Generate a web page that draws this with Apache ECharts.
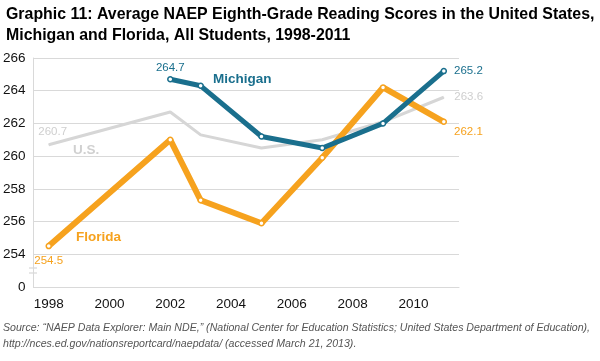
<!DOCTYPE html>
<html><head><meta charset="utf-8">
<script src="https://cdn.jsdelivr.net/npm/echarts@6/dist/echarts.min.js"></script>
<style>html,body{margin:0;padding:0;background:#fff}#c{width:600px;height:361px}</style>
</head><body><div id="c"></div>
<script>
const years = ['1998','1999','2000','2001','2002','2003','2004','2005','2006','2007','2008','2009','2010','2011'];
const usScores =       [260.7, null, null, null, 262.7, 261.3, null, 260.5, null, 261.0, null, 262.1, null, 263.6];
const floridaScores =  [254.5, null, null, null, 261.0, 257.3, null, 255.9, null, 259.9, null, 264.2, null, 262.1];
const michiganScores = [null,  null, null, null, 264.7, 264.3, null, 261.2, null, 260.5, null, 262.0, null, 265.2];
const yTickLabels = {252:'0'};

const C_MI = '#1a6f8d', C_FL = '#f6a21e', C_US = '#d6d6d6';
const chart = echarts.init(document.getElementById('c'));

function lab(arr, idxMap) {
  return arr.map((v, i) => {
    if (v == null) return null;
    if (idxMap[i]) return {value: v, label: Object.assign({show: true}, idxMap[i])};
    return v;
  });
}
const valFont = {fontFamily: 'Liberation Sans', fontSize: 11.5};

chart.setOption({
  animation: false,
  title: {
    text: 'Graphic 11: Average NAEP Eighth-Grade Reading Scores in the United States,\nMichigan and Florida, All Students, 1998-2011',
    left: 1, top: -1,
    textStyle: {fontFamily: 'Liberation Sans', fontWeight: 'bold', fontSize: 15.9, lineHeight: 21, color: '#000'}
  },
  grid: {left: 32, right: 141, top: 58, bottom: 74},
  xAxis: {
    type: 'category', data: years, boundaryGap: true,
    axisLine: {lineStyle: {color: '#d9d9d9', width: 1}},
    axisTick: {show: false},
    axisLabel: {interval: 1, color: '#111', fontFamily: 'Liberation Sans', fontSize: 13.5, margin: 10}
  },
  yAxis: {
    type: 'value', min: 252, max: 266, interval: 2,
    axisLine: {show: true, lineStyle: {color: '#d9d9d9', width: 1}},
    axisTick: {show: false},
    splitLine: {lineStyle: {color: '#d9d9d9', width: 1.2}},
    axisLabel: {color: '#111', fontFamily: 'Liberation Sans', fontSize: 13.5, margin: 8,
      formatter: v => (yTickLabels[v] !== undefined ? yTickLabels[v] : String(v))}
  },
  series: [
    {name: 'U.S.', type: 'line', connectNulls: true, symbol: 'circle', symbolSize: 1,
     lineStyle: {color: C_US, width: 3}, itemStyle: {color: C_US},
     data: lab(usScores, {
       0: Object.assign({position: 'top', distance: 6, offset: [4, 0], color: '#cfcfcf', formatter: '{c}'}, valFont),
       13: Object.assign({position: 'right', distance: 10, color: '#cfcfcf', formatter: '{c}'}, valFont)
     })},
    {name: 'Florida', type: 'line', connectNulls: true, symbol: 'circle', symbolSize: 5,
     lineStyle: {color: C_FL, width: 6}, itemStyle: {color: '#fff', borderColor: C_FL, borderWidth: 1.5},
     data: lab(floridaScores, {
       0: Object.assign({position: 'bottom', distance: 5, color: C_FL, formatter: '{c}'}, valFont),
       13: Object.assign({position: 'right', distance: 7, offset: [0, 10], color: C_FL, formatter: '{c}'}, valFont)
     })},
    {name: 'Michigan', type: 'line', connectNulls: true, symbol: 'circle', symbolSize: 5,
     lineStyle: {color: C_MI, width: 5}, itemStyle: {color: '#fff', borderColor: C_MI, borderWidth: 1.5},
     data: lab(michiganScores, {
       4: Object.assign({position: 'top', distance: 2, color: C_MI, formatter: '{c}'}, valFont),
       13: Object.assign({position: 'right', distance: 7, color: C_MI, formatter: '{c}'}, valFont)
     })}
  ],
  graphic: [
    {type: 'text', left: 213, top: 72, style: {text: 'Michigan', fill: C_MI, font: 'bold 13.5px "Liberation Sans"'}},
    {type: 'text', left: 73, top: 143, style: {text: 'U.S.', fill: '#d0d0d0', font: 'bold 13.5px "Liberation Sans"'}},
    {type: 'text', left: 76, top: 230, style: {text: 'Florida', fill: C_FL, font: 'bold 13.5px "Liberation Sans"'}},
    {type: 'rect', shape: {x: 30, y: 268, width: 4, height: 5}, style: {fill: '#fff'}},
    {type: 'line', shape: {x1: 29, y1: 268, x2: 37, y2: 268}, style: {stroke: '#cfcfcf', lineWidth: 1}},
    {type: 'line', shape: {x1: 29, y1: 273, x2: 37, y2: 273}, style: {stroke: '#cfcfcf', lineWidth: 1}},
    {type: 'text', left: 3, top: 320, style: {
      text: 'Source: \u201cNAEP Data Explorer: Main NDE,\u201d (National Center for Education Statistics; United States Department of Education),\nhttp://nces.ed.gov/nationsreportcard/naepdata/ (accessed March 21, 2013).',
      fill: '#555', font: 'italic 10.6px "Liberation Sans"', lineHeight: 16}}
  ]
});
</script></body></html>
